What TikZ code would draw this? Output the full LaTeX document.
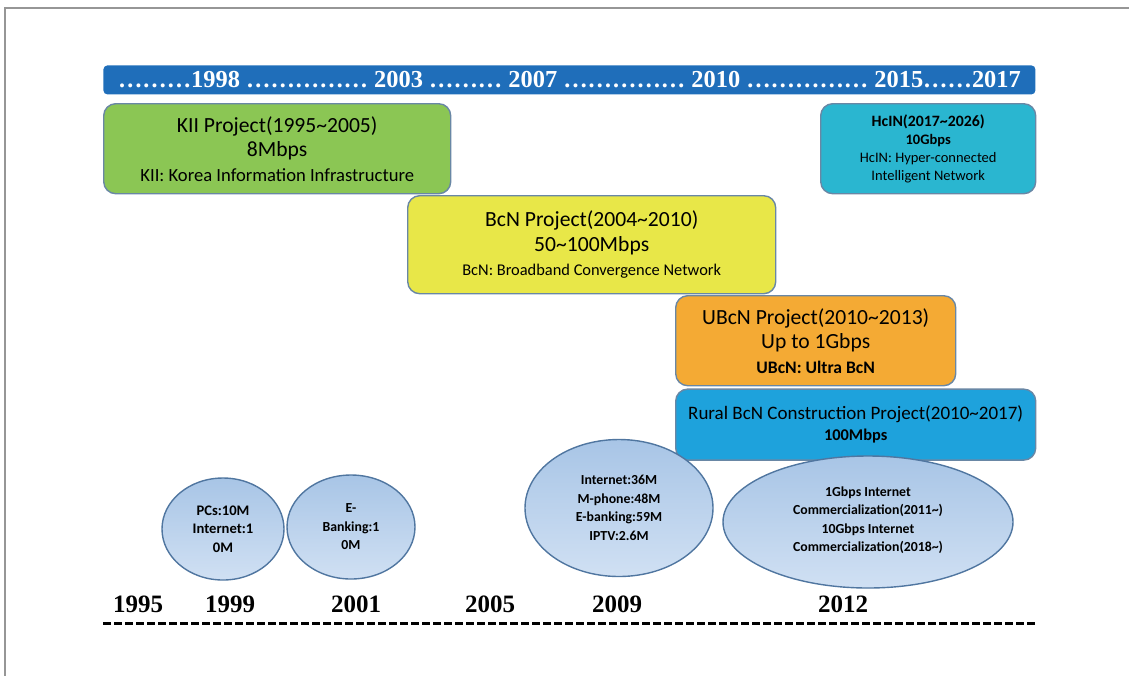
\documentclass[tikz,border=0pt]{standalone}
\usepackage{fontspec}
\setmainfont{Carlito}
\newfontfamily\yearfont{Liberation Serif}
\usetikzlibrary{positioning, shapes.geometric}
\definecolor{my_bar}{RGB}{31, 110, 186}
\definecolor{my_green}{RGB}{139, 198, 84}
\definecolor{my_cyan}{RGB}{42, 182, 208}
\definecolor{my_yellow}{RGB}{232, 231, 72}
\definecolor{my_orange}{RGB}{244, 170, 52}
\definecolor{my_blue}{RGB}{30, 162, 220}
\definecolor{my_edge}{RGB}{105, 135, 165}
\definecolor{my_bubbletop}{RGB}{168, 197, 230}
\definecolor{my_bubblebot}{RGB}{208, 224, 243}
\definecolor{my_bubbleedge}{RGB}{80, 118, 160}
\definecolor{my_frame}{RGB}{150, 150, 150}
\tikzset {
  bar/.style = {fill=my_bar, rounded corners=2pt, rectangle, inner sep=0pt, text=white, font=\yearfont\fontsize{12.2}{14}\selectfont\bfseries},
  prjbox/.style = {draw=my_edge, line width=0.7pt, rounded corners=6pt, rectangle, align=center, inner sep=0pt, anchor=north west},
  bubble/.style = {draw=my_bubbleedge, line width=0.7pt, ellipse, top color=my_bubbletop, bottom color=my_bubblebot, align=center, inner sep=0pt, font=\fontsize{6.9}{9.25}\selectfont\bfseries},
  year/.style = {anchor=base, font=\yearfont\fontsize{12.5}{15}\selectfont\bfseries},
  axis/.style = {line width=1.5pt, dash pattern=on 4pt off 1.5pt},
  big/.style = {font=\fontsize{10.8}{12.25}\selectfont},
}
\newcommand{\note}[2][8.2]{{\fontsize{#1}{12.25}\selectfont #2}}

\begin{document}
\begin{tikzpicture}[x=0.5pt, y=-0.5pt]
    \useasboundingbox (0,0) rectangle (1129,676);

    % page frame
    \draw[my_frame, line width=1pt] (4,8) -- (1129,8);
    \draw[my_frame, line width=1pt] (5,8) -- (5,676);

    % year bar
    \node[bar, minimum width=466pt, minimum height=14.5pt, anchor=north west] (timebar) at (103,65)
        {………1998 …………… 2003 ……… 2007 …………… 2010 …………… 2015……2017};

    % projects
    \node[prjbox, big, fill=my_green, minimum width=173.5pt, minimum height=45pt] (kii) at (103,103)
        {KII Project(1995\textasciitilde2005)\\8Mbps\\\note[9.3]{KII: Korea Information Infrastructure}};
    \node[prjbox, fill=my_cyan, minimum width=107.5pt, minimum height=45pt, font=\fontsize{7.25}{9}\selectfont] (hcin) at (820,103)
        {{\fontsize{7.9}{9}\selectfont\bfseries HcIN(2017\textasciitilde2026)}\\\textbf{10Gbps}\\HcIN: Hyper-connected\\Intelligent Network};
    \node[prjbox, big, fill=my_yellow, minimum width=184pt, minimum height=49pt] (bcn) at (407,195)
        {BcN Project(2004\textasciitilde2010)\\50\textasciitilde100Mbps\\\note{BcN: Broadband Convergence Network}};
    \node[prjbox, big, fill=my_orange, minimum width=140pt, minimum height=45pt] (ubcn) at (675,295)
        {UBcN Project(2010\textasciitilde2013)\\Up to 1Gbps\\\note[8.8]{\bfseries UBcN: Ultra BcN}};
    \node[prjbox, fill=my_blue, minimum width=180pt, minimum height=35.5pt, font=\fontsize{9.5}{10.5}\selectfont,
          below=1pt of ubcn.south west, anchor=north west] (rural)
        {Rural BcN Construction Project(2010\textasciitilde2017)\\{\fontsize{8.2}{10.5}\selectfont\bfseries 100Mbps}};

    % statistics
    \node[bubble, minimum width=61pt, minimum height=51pt, font=\fontsize{7.3}{9.25}\selectfont\bfseries] (pcs) at (223,529)
        {PCs:10M\\Internet:1\\0M};
    \node[bubble, minimum width=64pt, minimum height=52pt] (ebank) at (351,527) {E-\\Banking:1\\0M};
    \node[bubble, minimum width=94pt, minimum height=68.5pt] (mobile) at (619,508)
        {Internet:36M\\M-phone:48M\\E-banking:59M\\IPTV:2.6M};
    \node[bubble, minimum width=145pt, minimum height=66pt, text depth=3pt] (giga) at (868,522)
        {1Gbps Internet\\Commercialization(2011\textasciitilde)\\10Gbps Internet\\Commercialization(2018\textasciitilde)};

    % time axis
    \node[year] (y1995) at (138,612) {1995};
    \node[year] (y1999) at (230,612) {1999};
    \node[year] (y2001) at (356,612) {2001};
    \node[year] (y2005) at (490,612) {2005};
    \node[year] (y2009) at (617,612) {2009};
    \node[year] (y2012) at (843,612) {2012};
    \coordinate (axisL) at (103,623);
    \coordinate (axisR) at (1035,623);
    \draw[axis] (axisL) -- (axisR);

\end{tikzpicture}
\end{document}
